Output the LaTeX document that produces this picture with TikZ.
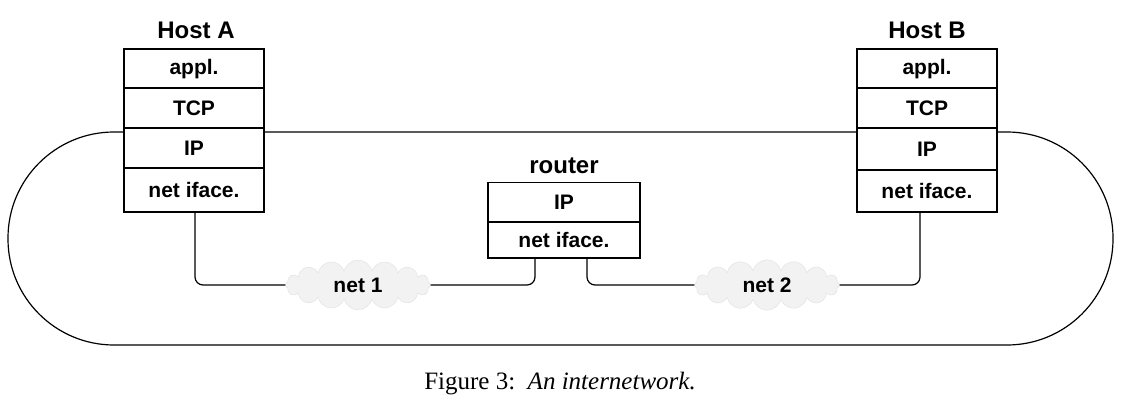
\documentclass[tikz,border=0pt]{standalone}
\usepackage{fontspec}
\setmainfont{Liberation Sans}
\newfontfamily\capfont{Liberation Serif}
\usetikzlibrary{shapes.symbols}
\begin{document}
\begin{tikzpicture}[x=1pt,y=-1pt,
  layer/.style={draw,line width=1.2pt,minimum width=140pt,minimum height=40pt,inner sep=0pt,font=\fontsize{21}{21}\selectfont\bfseries},
  lbl/.style={font=\fontsize{24}{24}\selectfont\bfseries},
  netcloud/.style={cloud,cloud puffs=16,aspect=4.5,draw=gray!25,fill=gray!10,minimum width=145pt,minimum height=30pt,font=\fontsize{21}{21}\selectfont\bfseries},
  wire/.style={line width=1.2pt,rounded corners=8pt}]
\useasboundingbox (0,0) rectangle (1126,404);
\draw[line width=1.2pt,rounded corners=106pt] (8,132) rectangle (1113,345);
% Host A
\node[layer,fill=white] (a1) at (194,69) {appl.};
\node[layer,fill=white] (a2) at (194,108) {TCP};
\node[layer,fill=white] (a3) at (194,148) {IP};
\node[layer,fill=white,minimum height=44pt] (a4) at (194,190) {net iface.};
\node[lbl] (ha) at (196,30) {Host A};
% Host B
\node[layer,fill=white] (b1) at (927,69) {appl.};
\node[layer,fill=white] (b2) at (927,108) {TCP};
\node[layer,fill=white,minimum height=42pt] (b3) at (927,149) {IP};
\node[layer,fill=white,minimum height=42pt] (b4) at (927,191) {net iface.};
\node[lbl] (hb) at (927,30) {Host B};
% Router
\node[layer,fill=white,minimum width=152pt,minimum height=39pt] (r1) at (564,202) {IP};
\node[layer,fill=white,minimum width=152pt,minimum height=36pt] (r2) at (564,240) {net iface.};
\node[lbl] (rl) at (564,166) {router};
% clouds
\node[netcloud] (n1) at (358,285) {net 1};
\node[netcloud] (n2) at (767,285) {net 2};
\draw[wire] (a4.south -| 195,0) -- (195,285) -- (n1.west);
\draw[wire] (n1.east) -- (535,285) -- (r2.south -| 535,0);
\draw[wire] (r2.south -| 587,0) -- (587,285) -- (n2.west);
\draw[wire] (n2.east) -- (920,285) -- (b4.south -| 920,0);
\node[font=\capfont\fontsize{25}{25}\selectfont] (cap) at (560,384) {Figure 3:\ \ \textit{An internetwork.}};
\end{tikzpicture}
\end{document}
